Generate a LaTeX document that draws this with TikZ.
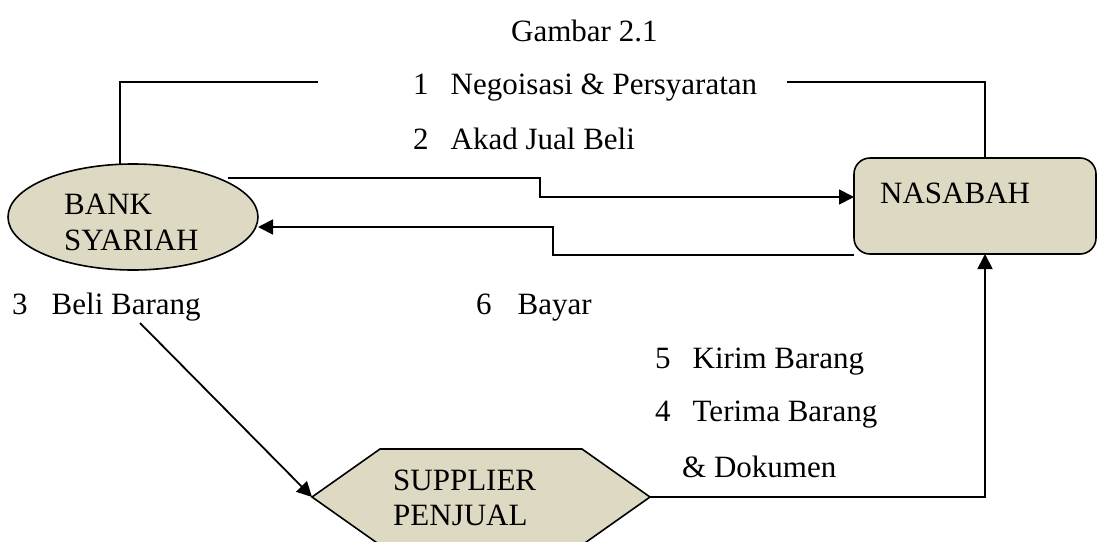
\documentclass[tikz,border=0pt]{standalone}
\usepackage{fontspec}
\setmainfont{Liberation Serif}
\usetikzlibrary{arrows.meta,shapes.geometric}
\definecolor{beige}{HTML}{DDD9C3}
\begin{document}
\begin{tikzpicture}[x=1pt,y=-1pt,
  lbl/.style={anchor=base west,inner sep=0pt,font=\fontsize{31}{36}\selectfont},
  conn/.style={line width=1.8pt},
  arr/.style={conn,-{Triangle[length=15pt,width=15pt]}},
  shp/.style={draw,line width=1.6pt,fill=beige}]
\useasboundingbox (0,0) rectangle (1098,541);
\fill[white] (0,0) rectangle (1098,541);
% shapes
\draw[shp] (133,217) ellipse [x radius=125, y radius=53];
\draw[shp,rounded corners=16pt] (854,158) rectangle (1096,254);
\draw[shp] (312,497) -- (380,449) -- (582,449) -- (650,497) -- (582,545) -- (380,545) -- cycle;
% labels
\node[lbl] (t0) at (511,41) {Gambar 2.1};
\node[lbl] (bk) at (64,214) {BANK};
\node[lbl] (sy) at (64,250) {SYARIAH};
\node[lbl] (ns) at (880,203) {NASABAH};
\node[lbl] (sp) at (393,490) {SUPPLIER};
\node[lbl] (pj) at (393,525) {PENJUAL};
\node[lbl] (l1) at (413,94) {1\hspace{22pt}Negoisasi \& Persyaratan};
\node[lbl] (l2) at (413,149) {2\hspace{22pt}Akad Jual Beli};
\node[lbl] (l3) at (12,314) {3\hspace{24pt}Beli Barang};
\node[lbl] (l6) at (476,314) {6\hspace{26pt}Bayar};
\node[lbl] (l5) at (655,368) {5\hspace{22pt}Kirim Barang};
\node[lbl] (l4) at (655,421) {4\hspace{22pt}Terima Barang};
\node[lbl] (ld) at (682,477) {\& Dokumen};
% connectors
\coordinate (a1) at (120,165);
\coordinate (a2) at (318,82);
\coordinate (b1) at (787,82);
\coordinate (b2) at (985,158);
\draw[conn] (a1) |- (a2);
\draw[conn] (b1) -| (b2);
\coordinate (c1) at (228,178);
\coordinate (c2) at (854,197);
\draw[arr] (c1) -- (540,178) -- (540,197) -- (c2);
\coordinate (d1) at (854,255);
\coordinate (d2) at (258,227);
\draw[arr] (d1) -- (553,255) -- (553,227) -- (d2);
\coordinate (e1) at (140,323);
\coordinate (e2) at (312,497);
\draw[arr] (e1) -- (e2);
\coordinate (f1) at (650,497);
\coordinate (f2) at (985,254);
\draw[arr] (f1) -| (f2);
\end{tikzpicture}
\end{document}
